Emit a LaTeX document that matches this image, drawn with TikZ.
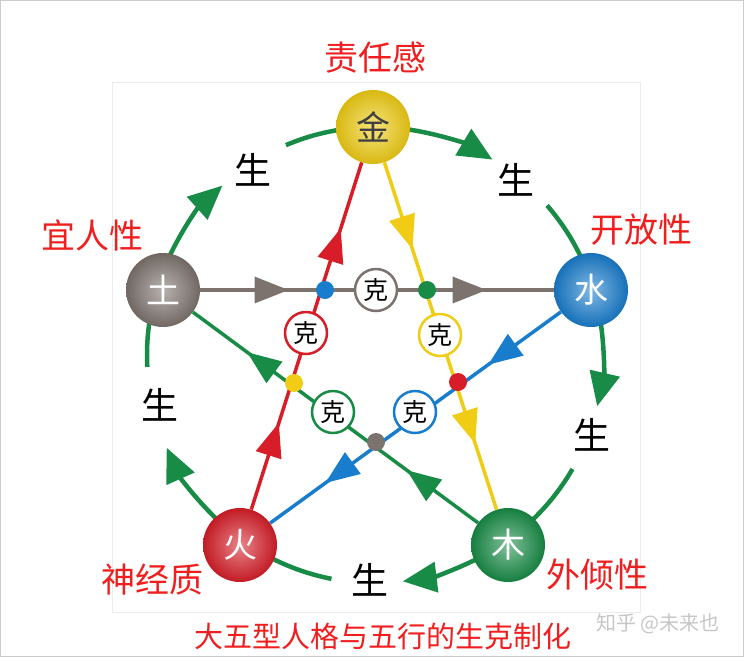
\documentclass[tikz,border=0pt]{standalone}
\usepackage{fontspec}
\setmainfont{Noto Sans CJK SC}
\usetikzlibrary{arrows.meta,decorations.markings,calc}
\definecolor{gr}{RGB}{24,140,70}
\definecolor{rd}{RGB}{215,30,40}
\definecolor{yl}{RGB}{240,205,20}
\definecolor{bl}{RGB}{25,125,205}
\definecolor{gy}{RGB}{125,115,110}
\definecolor{lab}{RGB}{240,30,30}
\begin{document}
\begin{tikzpicture}[x=1pt,y=-1pt,
  elem/.style={circle,minimum size=74pt,inner sep=0pt,inner color=#1!55!white,outer color=#1!90!black,text=white,font=\fontsize{34}{34}\selectfont},
  ke/.style={circle,draw=#1,line width=2.5pt,fill=white,minimum size=42pt,inner sep=0pt,font=\fontsize{25}{25}\selectfont},
  dot/.style={circle,fill=#1,minimum size=18pt,inner sep=0pt},
  sheng/.style={font=\fontsize{37}{37}\selectfont},
  red label/.style={text=lab,font=\fontsize{34}{34}\selectfont},
  arc/.style={draw=gr,line width=4.5pt},
  arcarrow/.style={arc,-{Triangle[length=34pt,width=30pt]}},
  kline/.style={draw=#1,line width=3.5pt,postaction={decorate},decoration={markings,
    mark=at position 0.25 with {\arrow[#1]{Triangle[length=34pt,width=26pt]}},
    mark=at position 0.81 with {\arrow[#1]{Triangle[length=34pt,width=26pt]}}}}
]
\useasboundingbox (0,0) rectangle (744,657);
\draw[gray!40,line width=1pt] (0.5,0.5) rectangle (743.5,656.5);
\draw[gray!15,line width=1pt] (112,82) rectangle (640,612);
\coordinate (C) at (375,355);
% outer arcs
\draw[arcarrow] ($(C)+(278:228)$) arc[start angle=278,end angle=301,radius=228];
\draw[arc] ($(C)+(319:228)$) arc[start angle=319,end angle=338,radius=228];
\draw[arcarrow] ($(C)+(350:228)$) arc[start angle=350,end angle=373,radius=228];
\draw[arc] ($(C)+(30:228)$) arc[start angle=30,end angle=48,radius=228];
\draw[arcarrow] ($(C)+(62:228)$) arc[start angle=62,end angle=83,radius=228];
\draw[arc] ($(C)+(101:228)$) arc[start angle=101,end angle=118,radius=228];
\draw[arcarrow] ($(C)+(132:228)$) arc[start angle=132,end angle=156,radius=228];
\draw[arc] ($(C)+(177:228)$) arc[start angle=177,end angle=192,radius=228];
\draw[arcarrow] ($(C)+(203:228)$) arc[start angle=203,end angle=228,radius=228];
\draw[arc] ($(C)+(247:228)$) arc[start angle=247,end angle=265,radius=228];
% nodes
\node[elem=yl,text=black!75] (jin) at (373,127) {金};
\node[elem=gy] (tu) at (163,290) {土};
\node[elem=bl] (shui) at (591,290) {水};
\node[elem=rd] (huo) at (240,545) {火};
\node[elem=gr] (mu) at (508,545) {木};
% inner lines
\path[kline=gy] (tu) -- (shui);
\path[kline=rd] (huo) -- (jin);
\path[kline=yl] (jin) -- (mu);
\path[kline=bl] (shui) -- (huo);
\path[kline=gr] (mu) -- (tu);
% dots
\node[dot=bl] (d1) at (325,290) {};
\node[dot=gr] (d2) at (427,290) {};
\node[dot=yl] (d3) at (294,383) {};
\node[dot=rd] (d4) at (458,382) {};
\node[dot=gy] (d5) at (376,442) {};
% ke
\node[ke=gy] (k1) at (376,290) {克};
\node[ke=rd] (k2) at (306,333) {克};
\node[ke=yl] (k3) at (440,335) {克};
\node[ke=gr] (k4) at (333,412) {克};
\node[ke=bl] (k5) at (415,412) {克};
% sheng labels
\node[sheng] (s1) at (253,170) {生};
\node[sheng] (s2) at (516,180) {生};
\node[sheng] (s3) at (592,435) {生};
\node[sheng] (s4) at (370,580) {生};
\node[sheng] (s5) at (160,405) {生};
% red labels
\node[red label] (l1) at (375,58) {责任感};
\node[red label] (l2) at (92,235) {宜人性};
\node[red label] (l3) at (641,230) {开放性};
\node[red label] (l4) at (152,580) {神经质};
\node[red label] (l5) at (597,575) {外倾性};
\node[red label,font=\fontsize{29}{29}\selectfont] (cap) at (383,636) {大五型人格与五行的生克制化};
\node[text=gray!45,font=\fontsize{20}{20}\selectfont] (wm) at (658,624) {知乎 @未来也};
\end{tikzpicture}
\end{document}
